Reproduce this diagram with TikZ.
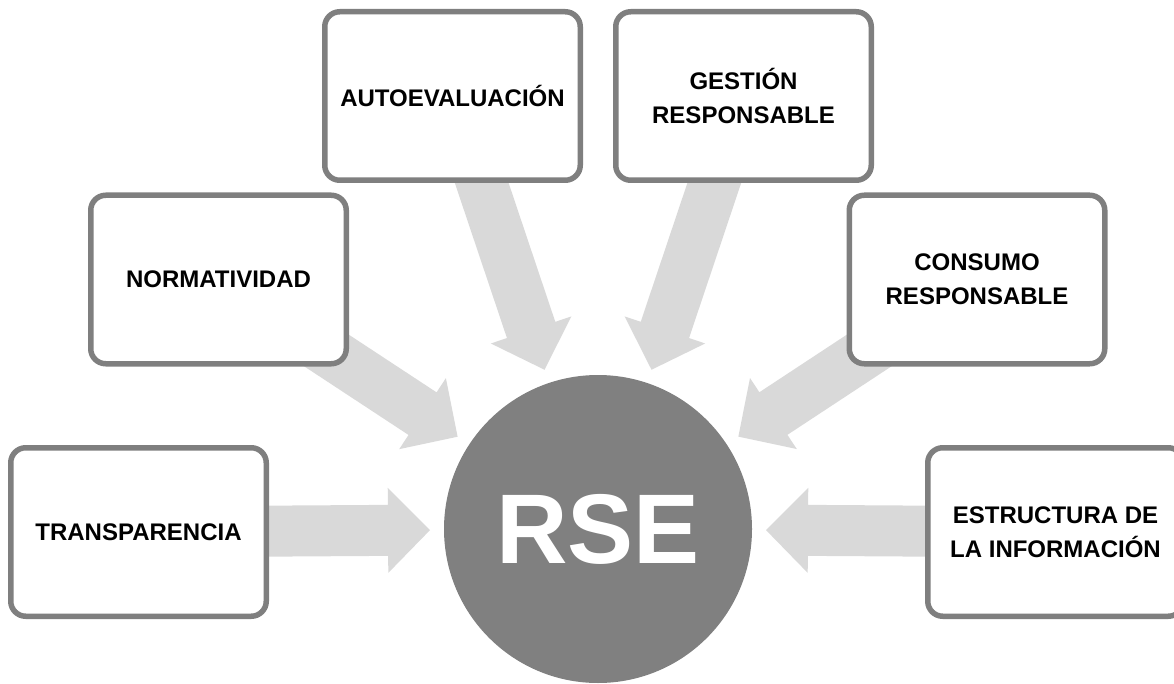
\documentclass[tikz,border=0pt]{standalone}
\usepackage{fontspec}
\setmainfont{Liberation Sans}
\usetikzlibrary{calc,backgrounds}
\definecolor{edgegray}{HTML}{7F7F7F}
\definecolor{arrowgray}{HTML}{D9D9D9}
\definecolor{hubgray}{HTML}{808080}
\begin{document}
\begin{tikzpicture}[x=1pt,y=-1pt,
  topic/.style={draw=edgegray, line width=5.5pt, fill=white, rounded corners=15pt,
    minimum width=255.5pt, minimum height=168.5pt, inner sep=0pt, align=center,
    font=\fontsize{24}{34}\selectfont\bfseries},
  hub/.style={circle, fill=hubgray, minimum size=308pt, inner sep=0pt, text=white,
    font=\fontsize{99}{99}\selectfont\bfseries},
  flow/.style={fill=arrowgray, draw=none}]
\clip (0,0) rectangle (1174,684);

% surrounding topics
\node[topic] (tr) at (138.5,532) {TRANSPARENCIA};
\node[topic] (no) at (218.5,279.5) {NORMATIVIDAD};
\node[topic] (au) at (452.5,96) {AUTOEVALUACIÓN};
\node[topic] (ge) at (743.5,96) {GESTIÓN\\RESPONSABLE};
\node[topic] (co) at (977,279.5) {CONSUMO\\RESPONSABLE};
\node[topic] (es) at (1055.5,532) {ESTRUCTURA DE\\LA INFORMACIÓN};

% central hub
\node[hub] (rse) at (598,529) {RSE};

% block arrows from each topic towards the hub
\begin{scope}[on background layer]
\foreach \src in {tr,no,au,ge,co,es}{
  \coordinate (tip) at ($(rse.center)!168pt!(\src.center)$);
  \coordinate (neck) at ($(tip)!42pt!(\src.center)$);
  \fill[flow] (tip)
    -- ($(neck)!42.5pt!90:(\src.center)$)
    -- ($(neck)!25.5pt!90:(\src.center)$)
    -- ($(\src.center)!25.5pt!-90:(neck)$)
    -- ($(\src.center)!25.5pt!90:(neck)$)
    -- ($(neck)!25.5pt!-90:(\src.center)$)
    -- ($(neck)!42.5pt!-90:(\src.center)$)
    -- cycle;
}
\end{scope}
\end{tikzpicture}
\end{document}
